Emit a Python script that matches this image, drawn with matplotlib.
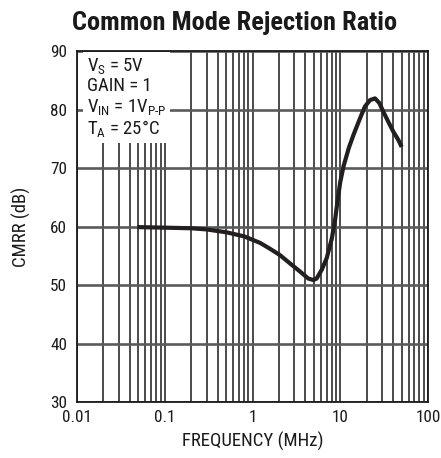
import matplotlib
matplotlib.use("Agg")
import matplotlib.pyplot as plt
from matplotlib import font_manager as fm
from matplotlib.ticker import FixedLocator, NullFormatter

# Data
freq_mhz = [0.0487, 0.1, 0.2, 0.3, 0.508, 0.807, 1.22, 1.58, 2.06, 2.67,
            3.48, 4.33, 4.93, 5.38, 6.15, 7.01, 8.0, 8.71, 9.3, 10.0, 10.9,
            12.5, 14.1, 16.8, 19.1, 21.8, 24.9, 27.9, 31.0, 35.3, 40.3, 45.9,
            50.1]
cmrr_db = [59.9, 59.8, 59.7, 59.5, 59.0, 58.3, 57.2, 56.2, 55.1, 53.7,
           52.3, 51.1, 50.85, 51.1, 52.6, 54.6, 57.9, 61.0, 64.3, 67.6, 70.3,
           73.4, 75.6, 78.5, 80.5, 81.6, 81.9, 81.1, 79.6, 77.9, 76.2, 74.8,
           73.6]
x_ticks = [0.01, 0.1, 1, 10, 100]
x_tick_labels = ["0.01", "0.1", "1", "10", "100"]
y_ticks = [30, 40, 50, 60, 70, 80, 90]
title = "Common Mode Rejection Ratio"
xlabel = "FREQUENCY (MHz)"
ylabel = "CMRR (dB)"
cond_text = ("$\\mathregular{V_S}$ = 5V\nGAIN = 1\n"
             "$\\mathregular{V_{IN}}$ = 1$\\mathregular{V_{P\\text{-}P}}$\n"
             "$\\mathregular{T_A}$ = 25°C")

installed = {f.name for f in fm.fontManager.ttflist}
prefs = ["Roboto Condensed", "Liberation Sans Narrow", "Arial Narrow",
         "Archivo Narrow", "Fira Sans Condensed", "Barlow Semi Condensed"]
main_font = next((p for p in prefs if p in installed), "DejaVu Sans")
FONT = [main_font, "DejaVu Sans"]
plt.rcParams["font.family"] = FONT
plt.rcParams["mathtext.fontset"] = "custom"
plt.rcParams["mathtext.rm"] = main_font
plt.rcParams["mathtext.it"] = main_font

fig = plt.figure(figsize=(4.41, 4.58), dpi=100)
ax = fig.add_axes([77 / 441, 1 - 402 / 458, 351 / 441, 351 / 458])

ax.set_xscale("log")
ax.set_xlim(0.01, 100)
ax.set_ylim(30, 90)

minor = [m * 10.0 ** e for e in range(-2, 2) for m in range(2, 10)]
ax.xaxis.set_major_locator(FixedLocator(x_ticks))
ax.xaxis.set_minor_locator(FixedLocator(minor))
ax.xaxis.set_minor_formatter(NullFormatter())
ax.set_xticks(x_ticks)
ax.set_xticklabels(x_tick_labels)
ax.set_yticks(y_ticks)
ax.yaxis.set_minor_locator(FixedLocator([]))

ax.grid(True, which="both", axis="x", color="#1a1a1a", lw=1.1)
ax.grid(True, which="major", axis="y", color="#5a5a5a", lw=1.9)
ax.set_axisbelow(True)

ax.tick_params(which="both", length=0, labelsize=12.3, colors="#1a1a1a")
ax.tick_params(axis="y", pad=7)
ax.tick_params(axis="x", pad=6)

for s in ax.spines.values():
    s.set_linewidth(1.3)
    s.set_color("#1a1a1a")

ax.plot(freq_mhz, cmrr_db, color="#231f20", lw=3.0, solid_capstyle="butt",
        solid_joinstyle="round", zorder=5)

ax.text(0.028, 0.985, cond_text, transform=ax.transAxes, ha="left", va="top",
        fontsize=13.5, linespacing=1.08, zorder=6, color="#1a1a1a",
        bbox=dict(boxstyle="square,pad=0.22", facecolor="white",
                  edgecolor="none"))

ax.set_xlabel(xlabel, fontsize=13.5, labelpad=5, color="#1a1a1a")
ax.set_ylabel(ylabel, fontsize=13.5, labelpad=14, color="#1a1a1a")

fig.text(235 / 441, 1 - 30 / 458, title, ha="center", va="baseline",
         fontsize=19, fontweight="bold", color="#1a1a1a")

fig.savefig("out.png", dpi=100)
